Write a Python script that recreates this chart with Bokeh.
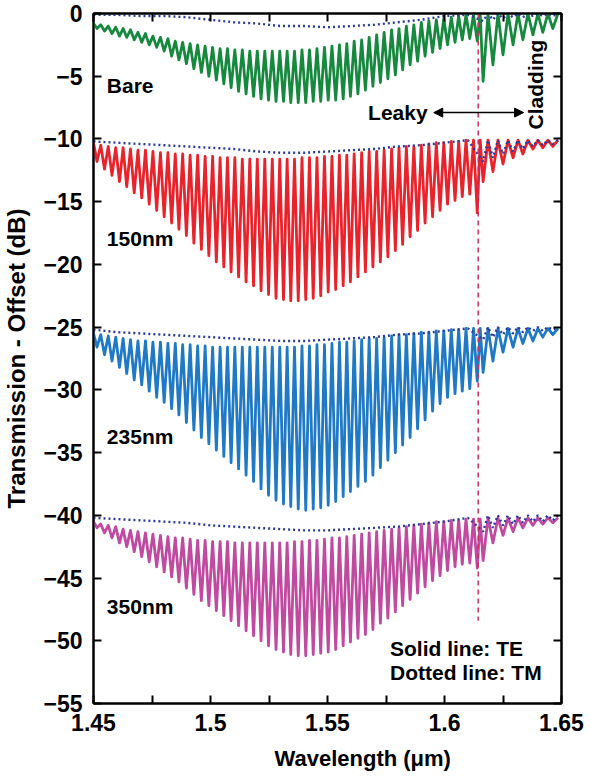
from bokeh.plotting import figure
from bokeh.models import (Range1d, FixedTicker, LinearAxis, Label, Arrow, Title,
                          NormalHead, NumeralTickFormatter)
from bokeh.embed import file_html
from bokeh.resources import INLINE

# ---------------- data ----------------
# fringe minima wavelengths (um): leaky-mode region, then cladding region
leaky_wl = [1.4515, 1.4547, 1.4579, 1.4611, 1.4642, 1.4674, 1.4706, 1.4738, 1.4770, 1.4802,
            1.4834, 1.4865, 1.4897, 1.4929, 1.4961, 1.4993, 1.5025, 1.5057, 1.5088, 1.5120,
            1.5152, 1.5184, 1.5216, 1.5248, 1.5280, 1.5312, 1.5343, 1.5375, 1.5407, 1.5439,
            1.5471, 1.5503, 1.5535, 1.5567, 1.5598, 1.5630, 1.5662, 1.5694, 1.5726, 1.5758,
            1.5790, 1.5821, 1.5853, 1.5885, 1.5917, 1.5949, 1.5981, 1.6013, 1.6045, 1.6076,
            1.6108, 1.6140]
clad_wl = [1.6165, 1.6207, 1.6250, 1.6293, 1.6335, 1.6378, 1.6420, 1.6463]
last_peak_wl = 1.6485
cutoff_wl = 1.6144

# TE (solid) traces: start value, fringe-minimum values, fringe-maximum values (dB)
bare_start = -0.8
bare_dip = [-1.2, -1.4, -1.6, -1.8, -1.9, -2.1, -2.3, -2.5, -2.7, -3.0,
            -3.4, -3.7, -4.0, -4.4, -4.7, -5.0, -5.3, -5.6, -5.9, -6.2,
            -6.4, -6.6, -6.8, -6.9, -7.0, -7.0, -7.1, -7.1, -7.1, -7.0,
            -7.0, -6.9, -6.9, -6.8, -6.6, -6.4, -6.1, -5.8, -5.5, -5.2,
            -4.9, -4.5, -4.1, -3.8, -3.4, -3.1, -2.8, -2.5, -2.3, -2.1,
            -2.0, -2.2,
            -5.4, -4.1, -3.3, -2.5, -2.1, -1.7, -1.5, -1.2]
bare_peak = [-0.9, -1.0, -1.1, -1.2, -1.3, -1.5, -1.6, -1.8, -1.9, -2.0,
             -2.2, -2.3, -2.4, -2.5, -2.6, -2.7, -2.8, -2.8, -2.9, -2.9,
             -3.0, -3.0, -3.0, -3.0, -3.0, -3.0, -3.0, -2.9, -2.9, -2.8,
             -2.7, -2.6, -2.5, -2.4, -2.2, -2.1, -1.9, -1.7, -1.5, -1.3,
             -1.2, -1.0, -0.9, -0.7, -0.6, -0.5, -0.4, -0.3, -0.2, -0.1,
             -0.1, 0.0,
             0.0, 0.0, 0.0, 0.0, 0.0, 0.0, 0.0, 0.0]

nm150_start = -10.3
nm150_dip = [-11.8, -12.4, -12.9, -13.4, -13.8, -14.3, -14.7, -15.2, -15.7, -16.2,
             -16.7, -17.2, -17.7, -18.3, -18.8, -19.3, -19.8, -20.2, -20.6, -21.0,
             -21.4, -21.7, -22.1, -22.4, -22.7, -22.8, -22.9, -22.9, -22.8, -22.7,
             -22.5, -22.2, -22.0, -21.7, -21.4, -21.0, -20.6, -20.2, -19.8, -19.4,
             -18.9, -18.4, -17.8, -17.3, -16.7, -16.2, -15.7, -15.2, -14.9, -14.6,
             -14.4, -15.9,
             -13.4, -12.6, -12.0, -11.5, -11.2, -10.8, -10.7, -10.6]
nm150_peak = [-10.5, -10.6, -10.7, -10.7, -10.8, -10.9, -10.9, -11.0, -11.1, -11.1,
              -11.2, -11.2, -11.3, -11.3, -11.4, -11.4, -11.5, -11.5, -11.5, -11.6,
              -11.6, -11.6, -11.6, -11.6, -11.6, -11.6, -11.6, -11.5, -11.5, -11.5,
              -11.4, -11.4, -11.3, -11.3, -11.2, -11.1, -11.0, -11.0, -10.9, -10.8,
              -10.7, -10.6, -10.6, -10.5, -10.4, -10.3, -10.3, -10.2, -10.2, -10.1,
              -10.1, -10.1,
              -10.1, -10.1, -10.1, -10.1, -10.1, -10.1, -10.1, -10.1]

nm235_start = -25.5
nm235_dip = [-26.6, -27.2, -27.7, -28.2, -28.7, -29.2, -29.6, -30.1, -30.6, -31.0,
             -31.5, -32.0, -32.6, -33.2, -33.8, -34.3, -34.8, -35.3, -35.8, -36.3,
             -36.8, -37.3, -37.9, -38.4, -38.8, -39.1, -39.3, -39.5, -39.6, -39.5,
             -39.4, -39.2, -38.9, -38.5, -38.1, -37.7, -37.3, -36.8, -36.2, -35.6,
             -35.0, -34.4, -33.8, -33.1, -32.4, -31.7, -31.1, -30.6, -30.3, -30.1,
             -29.9, -29.3,
             -28.6, -27.7, -27.0, -26.6, -26.3, -26.1, -25.8, -25.6]
nm235_peak = [-25.6, -25.7, -25.8, -25.9, -26.0, -26.1, -26.1, -26.2, -26.2, -26.3,
              -26.3, -26.4, -26.4, -26.5, -26.5, -26.6, -26.6, -26.6, -26.6, -26.6,
              -26.6, -26.6, -26.6, -26.6, -26.6, -26.6, -26.6, -26.5, -26.5, -26.4,
              -26.4, -26.3, -26.2, -26.2, -26.1, -26.0, -25.9, -25.9, -25.8, -25.7,
              -25.6, -25.6, -25.5, -25.4, -25.4, -25.3, -25.3, -25.2, -25.2, -25.1,
              -25.1, -25.1,
              -25.1, -25.1, -25.1, -25.1, -25.1, -25.1, -25.1, -25.1]

nm350_start = -40.5
nm350_dip = [-41.0, -41.4, -41.8, -42.2, -42.5, -42.9, -43.3, -43.7, -44.1, -44.5,
             -44.9, -45.3, -45.8, -46.3, -46.8, -47.2, -47.6, -48.0, -48.4, -48.8,
             -49.2, -49.6, -50.0, -50.4, -50.7, -50.9, -51.1, -51.2, -51.2, -51.1,
             -51.0, -50.9, -50.7, -50.4, -50.1, -49.8, -49.5, -49.1, -48.6, -48.2,
             -47.7, -47.2, -46.7, -46.2, -45.7, -45.2, -44.8, -44.4, -44.1, -43.9,
             -43.8, -44.2,
             -43.6, -42.2, -41.6, -41.3, -41.0, -40.8, -40.7, -40.6]
nm350_peak = [-40.7, -40.8, -40.9, -41.1, -41.2, -41.3, -41.4, -41.5, -41.6, -41.7,
              -41.8, -41.8, -41.9, -42.0, -42.0, -42.1, -42.1, -42.1, -42.2, -42.2,
              -42.2, -42.2, -42.2, -42.2, -42.2, -42.2, -42.1, -42.1, -42.0, -42.0,
              -41.9, -41.8, -41.8, -41.7, -41.6, -41.5, -41.4, -41.3, -41.2, -41.1,
              -41.0, -40.9, -40.8, -40.7, -40.6, -40.5, -40.5, -40.4, -40.4, -40.3,
              -40.3, -40.3,
              -40.2, -40.2, -40.2, -40.2, -40.2, -40.2, -40.2, -40.2]

# TM (dotted) traces
tm_wl = [1.45, 1.46, 1.47, 1.48, 1.49, 1.50, 1.51, 1.52, 1.53, 1.54, 1.55, 1.56,
         1.57, 1.58, 1.59, 1.60, 1.61,
         1.6165, 1.6186, 1.6207, 1.6228, 1.6250, 1.6271, 1.6293, 1.6314,
         1.6335, 1.6356, 1.6378, 1.6399, 1.6420, 1.6441, 1.6463, 1.6485]
bare_tm = [-0.1, -0.1, -0.2, -0.2, -0.3, -0.5, -0.7, -0.8, -1.0, -1.0, -1.1, -1.0,
           -0.9, -0.7, -0.5, -0.2, -0.1,
           -0.6, 0.0, -0.5, 0.0, -0.4, 0.0, -0.3, 0.0, -0.3, 0.0, -0.2, 0.0, -0.2, 0.0, -0.2, 0.0]
nm150_tm = [-10.2, -10.3, -10.4, -10.5, -10.6, -10.7, -10.8, -11.0, -11.1, -11.1, -11.0, -10.9,
            -10.8, -10.6, -10.5, -10.3, -10.1,
            -11.8, -10.1, -11.5, -10.1, -11.2, -10.1, -11.0, -10.1, -10.8, -10.1, -10.6, -10.1,
            -10.5, -10.1, -10.4, -10.1]
nm235_tm = [-25.2, -25.4, -25.5, -25.6, -25.7, -25.8, -25.9, -26.0, -26.1, -26.1, -26.0, -25.9,
            -25.8, -25.6, -25.5, -25.3, -25.1,
            -26.0, -25.0, -25.8, -25.0, -25.6, -25.0, -25.5, -25.0, -25.4, -25.0, -25.3, -25.0,
            -25.3, -25.0, -25.2, -25.0]
nm350_tm = [-40.2, -40.3, -40.4, -40.5, -40.6, -40.8, -40.9, -41.0, -41.1, -41.2, -41.2, -41.1,
            -41.0, -40.9, -40.7, -40.5, -40.2,
            -41.3, -40.0, -41.0, -40.0, -40.8, -40.0, -40.7, -40.0, -40.6, -40.0, -40.5, -40.0,
            -40.5, -40.0, -40.4, -40.0]

labels = ["Bare", "150nm", "235nm", "350nm"]
x_ticks = [1.45, 1.5, 1.55, 1.6, 1.65]
x_minor = [1.475, 1.525, 1.575, 1.625]
y_ticks = [0, -5, -10, -15, -20, -25, -30, -35, -40, -45, -50, -55]

# ---------------- styling ----------------
FONT = "Liberation Sans"
te_colors = ["#16893f", "#e8232b", "#1f79c4", "#bf4aa0"]
tm_color = "#2b3b9c"
label_y = [-5.7, -17.9, -33.7, -47.3]

dip_wl = leaky_wl + clad_wl
peak_wl = [(dip_wl[i] + dip_wl[i + 1]) / 2 for i in range(len(dip_wl) - 1)] + [last_peak_wl]


def te_trace(start, dips, peaks):
    xs, ys = [x_ticks[0]], [start]
    for xd, yd, xp, yp in zip(dip_wl, dips, peak_wl, peaks):
        xs += [xd, xp]
        ys += [yd, yp]
    return xs, ys


p = figure(width=590, height=784, x_range=Range1d(1.45, 1.65), y_range=Range1d(-55, 0),
           output_backend="svg", toolbar_location=None,
           min_border_left=92, min_border_right=29, min_border_top=13, min_border_bottom=81)
p.grid.visible = False
p.outline_line_color = "black"
p.outline_line_width = 2
p.background_fill_color = "white"
p.border_fill_color = "white"

te_sets = [(bare_start, bare_dip, bare_peak), (nm150_start, nm150_dip, nm150_peak),
           (nm235_start, nm235_dip, nm235_peak), (nm350_start, nm350_dip, nm350_peak)]
tm_sets = [bare_tm, nm150_tm, nm235_tm, nm350_tm]

for (s, d, pk), col in zip(te_sets, te_colors):
    xs, ys = te_trace(s, d, pk)
    p.line(xs, ys, line_color=col, line_width=2.8, line_join="round")

for tm in tm_sets:
    p.line(tm_wl, tm, line_color=tm_color, line_width=2.4, line_dash="2 3")

# cutoff dashed line
p.line([cutoff_wl, cutoff_wl], [0, -48.4], line_color="#cc2f62", line_width=1.5,
       line_dash="5 4")

# axes
xa = p.xaxis[0]
xa.ticker = FixedTicker(ticks=x_ticks, minor_ticks=x_minor)
xa.formatter = NumeralTickFormatter(format="0.0[0]")
ya = p.yaxis[0]
ya.ticker = FixedTicker(ticks=y_ticks)
for ax in (xa, ya):
    ax.axis_line_width = 2
    ax.major_tick_line_width = 2
    ax.minor_tick_line_width = 2
    ax.major_tick_in = 8
    ax.major_tick_out = 0
    ax.minor_tick_in = 8
    ax.minor_tick_out = 0
    ax.major_label_text_font = FONT
    ax.major_label_text_font_style = "bold"
    ax.major_label_text_font_size = "23px"
    ax.major_label_text_color = "black"
    ax.axis_label_text_font = FONT
    ax.axis_label_text_font_style = "bold"
    ax.axis_label_text_color = "black"
ya.minor_tick_in = 0
ya.axis_label = "Transmission - Offset (dB)"
ya.axis_label_text_font_size = "24px"
xa.major_label_standoff = 10
ya.major_label_standoff = 11
ya.axis_label_standoff = 10

# frame ticks on top and right (tick marks only, no labels)
top = LinearAxis(ticker=FixedTicker(ticks=[], minor_ticks=x_ticks + x_minor),
                 axis_line_width=2, minor_tick_line_width=2,
                 major_tick_in=0, major_tick_out=0, minor_tick_in=8, minor_tick_out=0)
right = LinearAxis(ticker=FixedTicker(ticks=[], minor_ticks=y_ticks),
                   axis_line_width=2, minor_tick_line_width=2,
                   major_tick_in=0, major_tick_out=0, minor_tick_in=8, minor_tick_out=0)
p.add_layout(top, "above")
p.add_layout(right, "right")

# x-axis title, slightly right of centre as in the original
p.add_layout(Title(text="Wavelength (μm)", align="left", offset=181, standoff=20,
                   text_font=FONT, text_font_style="bold", text_font_size="22px",
                   text_color="black"), "below")

# annotations
for txt, yy in zip(labels, label_y):
    p.add_layout(Label(x=1.4557, y=yy, text=txt, text_font=FONT, text_font_style="bold",
                       text_font_size="21px", text_baseline="middle", text_color="black"))

p.add_layout(Label(x=1.5928, y=-7.9, text="Leaky", text_font=FONT, text_font_style="bold",
                   text_font_size="21px", text_align="right", text_baseline="middle",
                   text_color="black"))
p.add_layout(Arrow(x_start=1.5954, y_start=-7.9, x_end=1.6338, y_end=-7.9, line_width=1.5,
                   start=NormalHead(size=9, fill_color="black", line_width=1),
                   end=NormalHead(size=9, fill_color="black", line_width=1)))
p.add_layout(Label(x=1.6388, y=-5.66, text="Cladding", angle=1.5708, text_font=FONT,
                   text_font_style="bold", text_font_size="21px", text_align="center",
                   text_baseline="middle", text_color="black"))
p.add_layout(Label(x=1.5767, y=-50.6, text="Solid line: TE", text_font=FONT,
                   text_font_style="bold", text_font_size="21px", text_baseline="middle",
                   text_color="black"))
p.add_layout(Label(x=1.5767, y=-52.5, text="Dotted line: TM", text_font=FONT,
                   text_font_style="bold", text_font_size="21px", text_baseline="middle",
                   text_color="black"))

open("out.html", "w").write(file_html(p, INLINE))
